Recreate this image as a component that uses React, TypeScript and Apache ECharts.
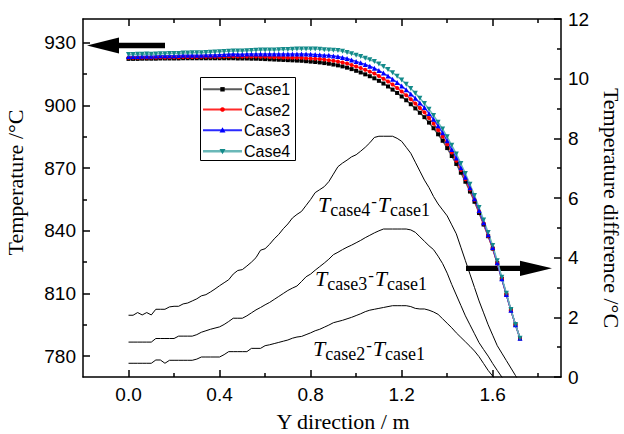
import React, { useEffect, useRef } from "react";
import * as echarts from "echarts";

// Positions along the Y direction (m)
const yPos = [
  0.0, 0.02, 0.04, 0.06, 0.08, 0.1, 0.12, 0.14, 0.16, 0.18,
  0.2, 0.22, 0.24, 0.26, 0.28, 0.3, 0.32, 0.34, 0.36, 0.38,
  0.4, 0.42, 0.44, 0.46, 0.48, 0.5, 0.52, 0.54, 0.56, 0.58,
  0.6, 0.62, 0.64, 0.66, 0.68, 0.7, 0.72, 0.74, 0.76, 0.78,
  0.8, 0.82, 0.84, 0.86, 0.88, 0.9, 0.92, 0.94, 0.96, 0.98,
  1.0, 1.02, 1.04, 1.06, 1.08, 1.1, 1.12, 1.14, 1.16, 1.18,
  1.2, 1.22, 1.24, 1.26, 1.28, 1.3, 1.32, 1.34, 1.36, 1.38,
  1.4, 1.42, 1.44, 1.46, 1.48, 1.5, 1.52, 1.54, 1.56, 1.58,
  1.6, 1.62, 1.64, 1.66, 1.68, 1.7, 1.72,
];

// Temperatures (°C), left axis
const case1 = [
  922.3, 922.3, 922.3, 922.4, 922.4, 922.4, 922.4, 922.5, 922.5, 922.5,
  922.5, 922.5, 922.6, 922.6, 922.6, 922.6, 922.6, 922.6, 922.6, 922.6,
  922.6, 922.6, 922.6, 922.6, 922.5, 922.5, 922.5, 922.4, 922.4, 922.3,
  922.2, 922.1, 922.0, 921.9, 921.8, 921.7, 921.6, 921.5, 921.4, 921.2,
  921.0, 920.8, 920.6, 920.3, 920.0, 919.6, 919.2, 918.7, 918.1, 917.4,
  916.6, 915.8, 914.9, 914.0, 913.0, 911.8, 910.5, 909.1, 907.6, 906.0,
  904.3, 902.5, 900.6, 898.6, 896.5, 894.4, 891.8, 889.1, 886.2, 883.1,
  879.6, 875.8, 872.0, 867.8, 863.5, 858.8, 853.9, 848.5, 843.0, 837.4,
  831.5, 824.5, 817.0, 809.5, 802.0, 795.0, 788.5,
];
const case2 = [
  922.8, 922.8, 922.8, 922.9, 922.9, 922.9, 923.0, 923.1, 923.0, 923.1,
  923.1, 923.1, 923.2, 923.2, 923.2, 923.2, 923.3, 923.3, 923.3, 923.3,
  923.3, 923.4, 923.5, 923.5, 923.4, 923.4, 923.4, 923.4, 923.4, 923.3,
  923.3, 923.2, 923.1, 923.1, 923.0, 922.9, 922.9, 922.8, 922.8, 922.6,
  922.5, 922.4, 922.2, 922.0, 921.7, 921.4, 921.1, 920.6, 920.1, 919.4,
  918.7, 917.9, 917.1, 916.2, 915.3, 914.1, 912.8, 911.5, 910.0, 908.4,
  906.7, 904.9, 903.0, 900.9, 898.8, 896.7, 894.0, 891.3, 888.3, 885.1,
  881.4, 877.5, 873.5, 869.1, 864.7, 859.8, 854.8, 849.2, 843.5, 837.6,
  831.5, 824.5, 817.0, 809.5, 802.0, 795.0, 788.5,
];
const case3 = [
  923.5, 923.5, 923.5, 923.6, 923.6, 923.6, 923.7, 923.8, 923.8, 923.8,
  923.8, 923.9, 924.0, 924.0, 924.0, 924.0, 924.1, 924.2, 924.2, 924.2,
  924.3, 924.4, 924.5, 924.6, 924.5, 924.5, 924.6, 924.6, 924.7, 924.6,
  924.6, 924.6, 924.6, 924.6, 924.6, 924.6, 924.6, 924.6, 924.6, 924.6,
  924.5, 924.4, 924.3, 924.1, 924.0, 923.7, 923.4, 923.0, 922.5, 921.8,
  921.1, 920.4, 919.6, 918.8, 917.8, 916.7, 915.5, 914.1, 912.6, 911.0,
  909.3, 907.5, 905.5, 903.5, 901.2, 899.0, 896.2, 893.4, 890.3, 886.9,
  883.1, 878.9, 874.8, 870.2, 865.6, 860.6, 855.4, 849.7, 843.9, 838.1,
  832.0, 824.7, 817.0, 809.5, 802.0, 795.0, 788.5,
];
const case4 = [
  924.4, 924.4, 924.5, 924.5, 924.6, 924.5, 924.7, 924.8, 924.8, 924.9,
  924.9, 924.9, 925.1, 925.1, 925.2, 925.2, 925.3, 925.4, 925.5, 925.6,
  925.7, 925.8, 925.9, 926.1, 926.1, 926.1, 926.2, 926.3, 926.4, 926.6,
  926.5, 926.6, 926.6, 926.7, 926.8, 926.8, 926.9, 927.0, 927.0, 927.0,
  927.0, 927.0, 926.9, 926.7, 926.6, 926.4, 926.3, 925.9, 925.4, 924.8,
  924.1, 923.4, 922.6, 921.9, 921.0, 919.9, 918.6, 917.2, 915.7, 914.0,
  912.2, 910.2, 908.1, 905.8, 903.4, 901.0, 898.2, 895.2, 892.0, 888.7,
  885.0, 880.9, 876.8, 872.2, 867.4, 862.3, 856.9, 851.1, 845.2, 839.2,
  832.9, 825.6, 817.8, 810.1, 802.3, 795.1, 788.5,
];

// Temperature differences (°C), right axis
const diff21 = [
  0.46, 0.46, 0.46, 0.46, 0.46, 0.46, 0.57, 0.57, 0.46, 0.56,
  0.56, 0.56, 0.56, 0.56, 0.56, 0.6, 0.67, 0.67, 0.67, 0.67,
  0.67, 0.75, 0.85, 0.85, 0.85, 0.85, 0.85, 0.96, 0.96, 0.96,
  1.05, 1.08, 1.12, 1.16, 1.2, 1.24, 1.3, 1.34, 1.36, 1.42,
  1.48, 1.55, 1.6, 1.67, 1.74, 1.82, 1.86, 1.9, 1.95, 2.0,
  2.06, 2.12, 2.19, 2.24, 2.27, 2.3, 2.33, 2.36, 2.39, 2.39,
  2.39, 2.39, 2.36, 2.3, 2.28, 2.28, 2.24, 2.18, 2.1, 1.95,
  1.8, 1.65, 1.48, 1.33, 1.18, 1.03, 0.87, 0.68, 0.45, 0.22,
  0.03, -0.2, null, null, null, null, null,
];
const diff31 = [
  1.17, 1.17, 1.17, 1.17, 1.17, 1.17, 1.29, 1.29, 1.29, 1.29,
  1.29, 1.37, 1.37, 1.37, 1.37, 1.42, 1.5, 1.55, 1.6, 1.64,
  1.68, 1.76, 1.86, 1.97, 1.97, 1.97, 2.05, 2.15, 2.25, 2.33,
  2.42, 2.5, 2.6, 2.7, 2.8, 2.9, 2.98, 3.05, 3.2, 3.36,
  3.45, 3.58, 3.7, 3.82, 3.95, 4.1, 4.18, 4.27, 4.35, 4.42,
  4.5, 4.58, 4.67, 4.75, 4.83, 4.9, 4.96, 4.96, 4.96, 4.96,
  4.96, 4.96, 4.93, 4.85, 4.7, 4.55, 4.4, 4.27, 4.05, 3.8,
  3.48, 3.1, 2.75, 2.4, 2.05, 1.75, 1.45, 1.15, 0.92, 0.7,
  0.45, 0.22, 0.0, -0.2, null, null, null,
];
const diff41 = [
  2.07, 2.07, 2.16, 2.08, 2.16, 2.08, 2.27, 2.27, 2.27, 2.35,
  2.37, 2.37, 2.45, 2.48, 2.55, 2.62, 2.72, 2.76, 2.85, 2.95,
  3.06, 3.16, 3.26, 3.45, 3.57, 3.6, 3.72, 3.85, 4.0, 4.25,
  4.3, 4.45, 4.63, 4.78, 4.97, 5.13, 5.33, 5.45, 5.55, 5.75,
  5.95, 6.18, 6.28, 6.38, 6.55, 6.8, 7.05, 7.17, 7.27, 7.38,
  7.45, 7.57, 7.7, 7.85, 8.03, 8.07, 8.07, 8.07, 8.07, 8.0,
  7.9, 7.7, 7.5, 7.2, 6.9, 6.6, 6.35, 6.05, 5.8, 5.6,
  5.4, 5.1, 4.8, 4.35, 3.9, 3.45, 3.0, 2.55, 2.15, 1.75,
  1.4, 1.05, 0.8, 0.55, 0.3, 0.05, -0.2,
];

// Case names, marker shapes and colours
const caseNames = ["Case1", "Case2", "Case3", "Case4"];
const caseData = [case1, case2, case3, case4];
const markerColors = ["#000000", "#ff0000", "#0000ff", "#138a8a"];
const lineColors = ["#5a5a5a", "#ff2a2a", "#2a2aff", "#6ab8b8"];
const markerShapes = ["rect", "circle", "triangle", "triangle"];
const markerRotations = [0, 0, 0, 180];

// Tick positions
const xMajorTicks = [0, 0.4, 0.8, 1.2, 1.6];
const xMinorTicks = [0.2, 0.6, 1.0, 1.4, 1.8];
const tempMajorTicks = [780, 810, 840, 870, 900, 930];
const tempMinorTicks = [795, 825, 855, 885, 915];

const SANS = "Liberation Sans";
const SERIF = "Liberation Serif";
const black = { color: "#000", width: 1.5 };

const pairs = (vals: (number | null)[]) =>
  yPos.map((x, i) => [x, vals[i]]).filter((p) => p[1] !== null);

const tickLabel = { color: "#000", fontSize: 19, fontFamily: SANS };

function xAxisDef(position: "bottom" | "top", major: boolean) {
  return {
    type: "value",
    position,
    min: -0.2,
    max: 1.9,
    axisLine: { show: major, onZero: false, lineStyle: black },
    axisTick: {
      show: true,
      inside: true,
      length: major ? 7 : 4,
      customValues: major ? xMajorTicks : xMinorTicks,
      lineStyle: black,
    },
    axisLabel:
      major && position === "bottom"
        ? {
            show: true,
            customValues: xMajorTicks,
            formatter: (v: number) => v.toFixed(1),
            margin: 8,
            ...tickLabel,
          }
        : { show: false },
    splitLine: { show: false },
  };
}

function tempAxisDef(major: boolean) {
  return {
    type: "value",
    position: "left",
    min: 770,
    max: 941.4,
    axisLine: { show: major, onZero: false, lineStyle: black },
    axisTick: {
      show: true,
      inside: true,
      length: major ? 7 : 4,
      customValues: major ? tempMajorTicks : tempMinorTicks,
      lineStyle: black,
    },
    axisLabel: major
      ? {
          show: true,
          customValues: tempMajorTicks,
          formatter: (v: number) => String(v),
          margin: 7,
          ...tickLabel,
        }
      : { show: false },
    splitLine: { show: false },
  };
}

const subRich = {
  t: {
    fontFamily: SERIF,
    fontStyle: "italic",
    fontSize: 22,
    lineHeight: 22,
    verticalAlign: "top",
    color: "#000",
  },
  s: {
    fontFamily: SERIF,
    fontSize: 18,
    lineHeight: 18,
    padding: [8, 0, 0, 0],
    verticalAlign: "top",
    color: "#000",
  },
  h: {
    fontFamily: SERIF,
    fontSize: 17,
    lineHeight: 17,
    padding: [0, 1, 0, 1],
    verticalAlign: "top",
    color: "#000",
  },
};

function diffLabel(a: string, x: number, y: number) {
  return {
    type: "text",
    x,
    y,
    style: {
      text: `{t|T}{s|case${a}}{h|-}{t|T}{s|case1}`,
      rich: subRich,
      align: "left",
      verticalAlign: "top",
      fill: "#000",
    },
  };
}

// Legend key marker drawn at (cx, cy)
function keyMarker(i: number, cx: number, cy: number) {
  const fill = { fill: markerColors[i] };
  if (markerShapes[i] === "rect")
    return { type: "rect", shape: { x: cx - 2.2, y: cy - 2.2, width: 4.4, height: 4.4 }, style: fill };
  if (markerShapes[i] === "circle")
    return { type: "circle", shape: { cx, cy, r: 2.3 }, style: fill };
  const d = markerRotations[i] === 180 ? -1 : 1;
  return {
    type: "polygon",
    shape: {
      points: [
        [cx, cy - 3 * d],
        [cx - 3, cy + 2.2 * d],
        [cx + 3, cy + 2.2 * d],
      ],
    },
    style: fill,
  };
}

function legendBox() {
  const left = 200.5;
  const top = 77.5;
  const rowY = [89.3, 109.5, 130.2, 151.2];
  const children: any[] = [
    {
      type: "rect",
      shape: { x: left, y: top, width: 95, height: 83 },
      style: { fill: "#fff", stroke: "#000", lineWidth: 1 },
    },
  ];
  caseNames.forEach((name, i) => {
    const y = rowY[i];
    children.push({
      type: "line",
      shape: { x1: 203, y1: y, x2: 242, y2: y },
      style: { stroke: lineColors[i], lineWidth: i === 3 ? 2.6 : 2 },
    });
    children.push(keyMarker(i, 222.5, y));
    children.push({
      type: "text",
      x: 244,
      y: y + 0.5,
      style: {
        text: name,
        font: "16px 'Liberation Sans'",
        fontFamily: SANS,
        fontSize: 16,
        fill: "#000",
        align: "left",
        verticalAlign: "middle",
      },
    });
  });
  return { type: "group", z: 100, children };
}

function option() {
  return {
    animation: false,
    backgroundColor: "#fff",
    grid: {
      left: 83,
      right: 63,
      top: 19,
      bottom: 57,
      containLabel: false,
      outerBoundsMode: "none",
    },
    xAxis: [
      xAxisDef("bottom", true),
      xAxisDef("bottom", false),
      xAxisDef("top", true),
      xAxisDef("top", false),
    ],
    yAxis: [
      tempAxisDef(true),
      tempAxisDef(false),
      {
        type: "value",
        position: "right",
        min: 0,
        max: 12,
        interval: 2,
        axisLine: { show: true, onZero: false, lineStyle: black },
        axisTick: { show: true, inside: true, length: 7, lineStyle: black },
        minorTick: { show: true, splitNumber: 2, length: 4, lineStyle: black },
        axisLabel: { show: true, margin: 7, ...tickLabel },
        splitLine: { show: false },
        minorSplitLine: { show: false },
      },
    ],
    series: [
      ...caseNames.map((name, i) => ({
        name,
        type: "line",
        xAxisIndex: 0,
        yAxisIndex: 0,
        data: pairs(caseData[i]),
        symbol: markerShapes[i],
        symbolRotate: markerRotations[i],
        symbolSize: markerShapes[i] === "triangle" ? 5 : 4,
        lineStyle: { color: lineColors[i], width: 1.5 },
        itemStyle: { color: markerColors[i] },
      })),
      ...[diff21, diff31, diff41].map((d) => ({
        type: "line",
        xAxisIndex: 0,
        yAxisIndex: 2,
        data: pairs(d),
        symbol: "none",
        lineStyle: { color: "#000", width: 1 },
        clip: true,
        z: 1,
      })),
    ],
    graphic: [
      // arrow pointing to the temperature axis
      {
        type: "polygon",
        shape: {
          points: [
            [87, 45.5],
            [119, 37.5],
            [119, 42.7],
            [165, 42.7],
            [165, 48.3],
            [119, 48.3],
            [119, 53.5],
          ],
        },
        style: { fill: "#000" },
      },
      // arrow pointing to the difference axis
      {
        type: "polygon",
        shape: {
          points: [
            [552, 268.3],
            [520, 260.7],
            [520, 265.8],
            [466, 265.8],
            [466, 271],
            [520, 271],
            [520, 276],
          ],
        },
        style: { fill: "#000" },
      },
      legendBox(),
      diffLabel("4", 318, 193),
      diffLabel("3", 315, 267),
      diffLabel("2", 313, 337),
      {
        type: "text",
        x: 15.5,
        y: 182.5,
        rotation: Math.PI / 2,
        style: {
          text: "Temperature /°C",
          fontFamily: SERIF,
          fontSize: 22,
          fill: "#000",
          align: "center",
          verticalAlign: "middle",
        },
      },
      {
        type: "text",
        x: 611,
        y: 208,
        rotation: -Math.PI / 2,
        style: {
          text: "Temperature difference /°C",
          fontFamily: SERIF,
          fontSize: 22,
          fill: "#000",
          align: "center",
          verticalAlign: "middle",
        },
      },
      {
        type: "text",
        x: 343,
        y: 421,
        style: {
          text: "Y direction / m",
          fontFamily: SERIF,
          fontSize: 22,
          fill: "#000",
          align: "center",
          verticalAlign: "middle",
        },
      },
    ],
  };
}

export default function App() {
  const ref = useRef<HTMLDivElement>(null);
  useEffect(() => {
    if (!ref.current) return;
    const chart = echarts.init(ref.current, null, { renderer: "svg" });
    chart.setOption(option() as any);
    return () => chart.dispose();
  }, []);
  return (
    <div
      ref={ref}
      style={{
        position: "fixed",
        left: 0,
        top: 0,
        width: 624,
        height: 434,
        background: "#fff",
      }}
    />
  );
}
